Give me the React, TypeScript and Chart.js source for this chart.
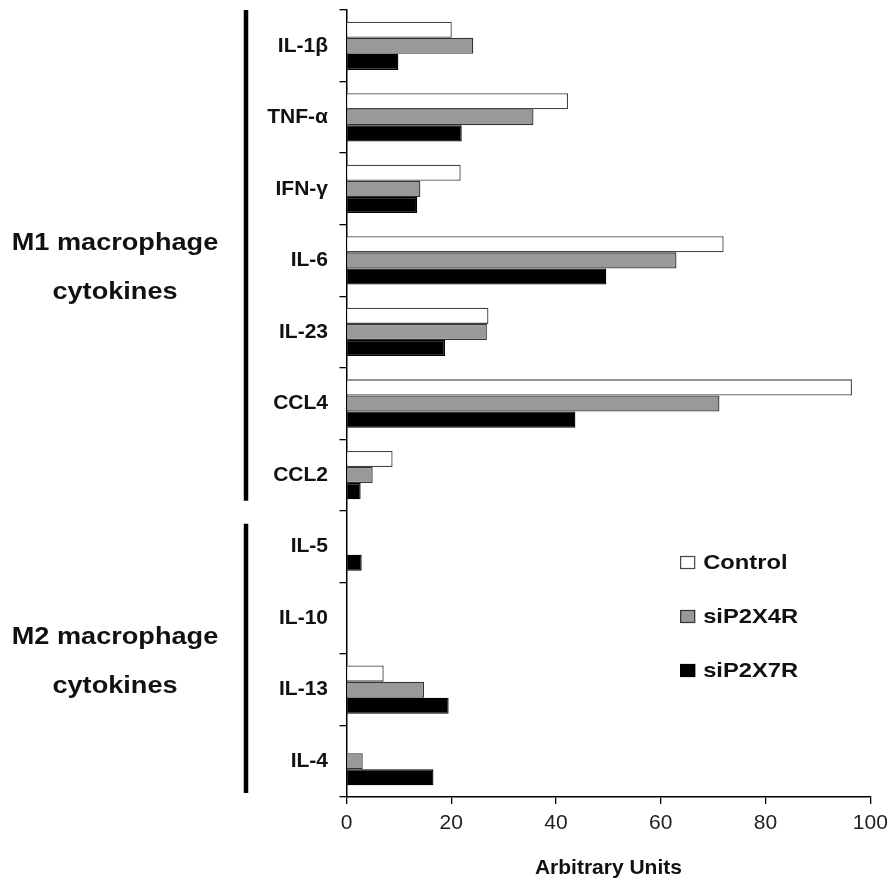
import React, { useEffect, useRef } from "react";
import { Chart, registerables } from "chart.js";

Chart.register(...registerables);

const categories = ["IL-1β", "TNF-α", "IFN-γ", "IL-6", "IL-23", "CCL4", "CCL2", "IL-5", "IL-10", "IL-13", "IL-4"];
const controlValues = [20.1, 42.3, 21.8, 72.0, 27.1, 96.5, 8.8, 0, 0, 7.1, 0];
const siP2X4RValues = [24.2, 35.7, 14.1, 63.0, 26.8, 71.2, 5.0, 0, 0, 14.8, 3.1];
const siP2X7RValues = [9.9, 22.0, 13.5, 49.6, 18.8, 43.7, 2.7, 2.9, 0, 19.5, 16.6];
const seriesNames = ["Control", "siP2X4R", "siP2X7R"];
const xTickValues = [0, 20, 40, 60, 80, 100];
const groupTitles = [["M1 macrophage", "cytokines"], ["M2 macrophage", "cytokines"]];
const groupFirst = [0, 7];
const groupLast = [6, 10];
const axisTitle = "Arbitrary Units";

const FONT = "'Liberation Sans', Arial, Helvetica, sans-serif";

const groupsPlugin = {
  id: "groups",
  afterDraw(chart: any) {
    const ctx = chart.ctx;
    const y = chart.scales.y;
    const half = (y.getPixelForValue(1) - y.getPixelForValue(0)) / 2;
    const lineX = 246;
    ctx.save();
    groupTitles.forEach((lines, gi) => {
      const top = y.getPixelForValue(groupFirst[gi]) - half;
      const bottom = y.getPixelForValue(groupLast[gi]) + half;
      const insetTop = gi === 0 ? 0 : 13;
      const insetBottom = gi === 0 ? 10 : 4;
      ctx.strokeStyle = "#000";
      ctx.lineWidth = 4.5;
      ctx.beginPath();
      ctx.moveTo(lineX, top + insetTop);
      ctx.lineTo(lineX, bottom - insetBottom);
      ctx.stroke();
      const mid = (top + bottom) / 2;
      ctx.fillStyle = "#111";
      ctx.font = `bold 24px ${FONT}`;
      ctx.textAlign = "center";
      ctx.textBaseline = "alphabetic";
      lines.forEach((t, li) => {
        ctx.save();
        ctx.translate(lineX - 131, mid - 10 + li * 49);
        ctx.scale(1.13, 1);
        ctx.fillText(t, 0, 0);
        ctx.restore();
      });
    });

    // legend
    const area = chart.chartArea;
    const bx = area.left + 0.637 * (area.right - area.left);
    chart.data.datasets.forEach((ds: any, i: number) => {
      const base = 569 + i * 54;
      ctx.fillStyle = ds.backgroundColor;
      ctx.fillRect(bx, base - 13, 15, 13);
      ctx.strokeStyle = ds.borderColor;
      ctx.lineWidth = 1.2;
      ctx.strokeRect(bx + 0.5, base - 12.5, 14, 12);
      ctx.fillStyle = "#111";
      ctx.font = `bold 21px ${FONT}`;
      ctx.textAlign = "left";
      ctx.textBaseline = "alphabetic";
      ctx.save();
      ctx.translate(bx + 23, base);
      ctx.scale(1.13, 1);
      ctx.fillText(ds.label, 0, 0);
      ctx.restore();
    });
    ctx.restore();
  },
};

export default function App() {
  const ref = useRef<HTMLCanvasElement>(null);
  useEffect(() => {
    if (!ref.current) return;
    const chart = new Chart(ref.current, {
      type: "bar",
      data: {
        labels: categories,
        datasets: [
          { label: seriesNames[0], data: controlValues, backgroundColor: "#ffffff", borderColor: "#444444", borderWidth: 1.3 },
          { label: seriesNames[1], data: siP2X4RValues, backgroundColor: "#999999", borderColor: "#333333", borderWidth: 1.3 },
          { label: seriesNames[2], data: siP2X7RValues, backgroundColor: "#000000", borderColor: "#000000", borderWidth: 1.3 },
        ],
      },
      options: {
        indexAxis: "y",
        responsive: false,
        animation: false,
        layout: { padding: { top: 10, right: 20.7, left: 0, bottom: 0 } },
        datasets: { bar: { categoryPercentage: 0.675, barPercentage: 1.0 } },
        plugins: { legend: { display: false }, tooltip: { enabled: false }, title: { display: false } },
        scales: {
          x: {
            type: "linear",
            min: 0,
            max: 100,
            afterFit: (s: any) => { s.height = 85; s.paddingLeft = 0; s.paddingRight = 0; },
            afterBuildTicks: (s: any) => { s.ticks = xTickValues.map((v) => ({ value: v })); },
            ticks: { color: "#222", font: { family: FONT, size: 21 }, padding: 7 },
            grid: { drawOnChartArea: false, drawTicks: true, tickLength: 7, color: "#000", lineWidth: 1.3 },
            border: { display: true, color: "#000", width: 1.5 },
            title: { display: true, text: axisTitle, color: "#111", font: { family: FONT, size: 21, weight: "bold" }, padding: { top: 0, bottom: 1 } },
          },
          y: {
            type: "category",
            offset: true,
            afterFit: (s: any) => { s.width = 346.5; s.paddingTop = 0; s.paddingBottom = 0; },
            ticks: { color: "#111", font: { family: FONT, size: 21, weight: "bold" }, padding: 11.5 },
            grid: { offset: true, drawOnChartArea: false, drawTicks: true, tickLength: 7, color: "#000", lineWidth: 1.3 },
            border: { display: true, color: "#000", width: 1.5 },
          },
        },
      },
      plugins: [groupsPlugin],
    } as any);
    return () => chart.destroy();
  }, []);
  return (
    <div style={{ position: "absolute", left: 0, top: 0, width: 891, height: 882, background: "#fff" }}>
      <canvas ref={ref} width={891} height={882} style={{ display: "block" }} />
    </div>
  );
}
